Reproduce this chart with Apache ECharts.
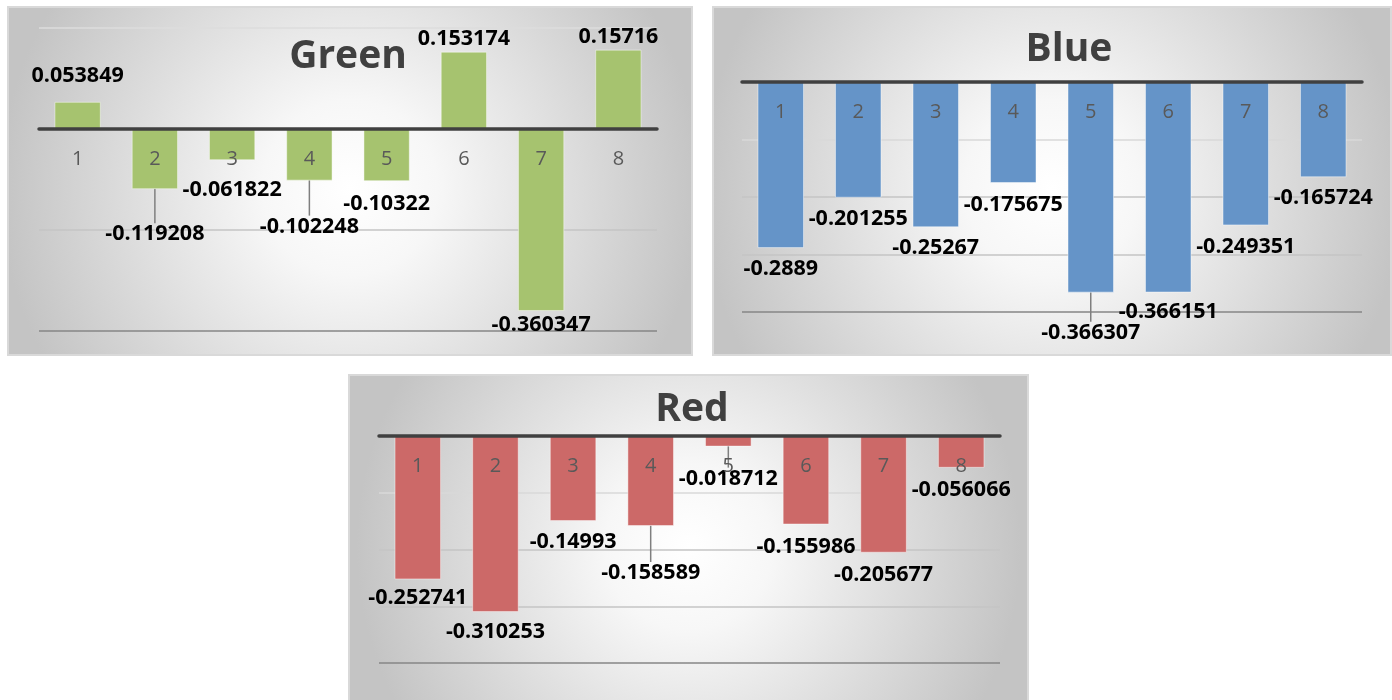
<!DOCTYPE html>
<html>
<head>
<meta charset="utf-8">
<title>Green / Blue / Red</title>
<script src="https://cdn.jsdelivr.net/npm/echarts@6/dist/echarts.min.js"></script>
<style>
  html, body { margin: 0; padding: 0; background: #ffffff; }
  #chart { width: 1392px; height: 700px; }
</style>
</head>
<body>
<div id="chart"></div>
<script>
// Category names shared by the three panels
const categories = ['1', '2', '3', '4', '5', '6', '7', '8'];

// Values per panel
const greenValues = [0.053849, -0.119208, -0.061822, -0.102248, -0.10322, 0.153174, -0.360347, 0.15716];
const blueValues  = [-0.2889, -0.201255, -0.25267, -0.175675, -0.366307, -0.366151, -0.249351, -0.165724];
const redValues   = [-0.252741, -0.310253, -0.14993, -0.158589, -0.018712, -0.155986, -0.205677, -0.056066];

// Value-axis ranges per panel
const greenAxis = { min: -0.4, max: 0.2, interval: 0.2 };
const blueAxis  = { min: -0.4, max: 0,   interval: 0.1 };
const redAxis   = { min: -0.4, max: 0,   interval: 0.1 };

// Hand-placed label nudges (vertical, px) and which labels get a leader line
const greenLabelDy = [-10, 29, 14, 30, 7, 3, -2, 3];
const blueLabelDy  = [5, 5, 5, 6, 24, 3, 5, 5];
const redLabelDy   = [2, 4, 5, 31, 16, 6, 6, 6];
const greenLeader = [1, 3];
const blueLeader  = [4];
const redLeader   = [3, 4];

const panels = [
  { name: 'Green', values: greenValues, axis: greenAxis, color: '#a6c36f', dy: greenLabelDy, leader: greenLeader,
    box: { x: 8, y: 7, w: 684, h: 348 }, grid: { left: 39, right: 735, top: 28, bottom: 369 },
    title: { x: 343, y: 32 }, splitColors: ['#868686', '#c4c4c4', '#c4c4c4', '#dcdcdc'] },
  { name: 'Blue', values: blueValues, axis: blueAxis, color: '#6594c8', dy: blueLabelDy, leader: blueLeader,
    box: { x: 713, y: 7, w: 678, h: 348 }, grid: { left: 742, right: 30, top: 82, bottom: 388 },
    title: { x: 1064, y: 25 }, splitColors: ['#868686', '#c4c4c4', '#c4c4c4', '#d8d8d8', '#c4c4c4'] },
  { name: 'Red', values: redValues, axis: redAxis, color: '#cc6968', dy: redLabelDy, leader: redLeader,
    box: { x: 349, y: 375, w: 679, h: 330 }, grid: { left: 379, right: 392, top: 436, bottom: 37 },
    title: { x: 687, y: 385 }, splitColors: ['#868686', '#c4c4c4', '#c4c4c4', '#d8d8d8', '#c4c4c4'] }
];

const FONT = '"Open Sans", "Noto Sans", sans-serif';

// The category axis sits on the zero value: place it from the top edge of its grid
function zeroOffset(p) {
  const h = 700 - p.grid.top - p.grid.bottom;
  return -h * p.axis.max / (p.axis.max - p.axis.min);
}

const option = {
  animation: false,
  backgroundColor: '#ffffff',
  graphic: panels.map(p => ({
    type: 'rect',
    z: -10,
    silent: true,
    shape: { x: p.box.x, y: p.box.y, width: p.box.w, height: p.box.h },
    style: {
      fill: {
        type: 'radial', x: 0.5, y: 0.52, r: 1.0,
        colorStops: [
          { offset: 0, color: '#ffffff' },
          { offset: 0.25, color: '#f7f7f7' },
          { offset: 1, color: '#c4c4c4' }
        ]
      },
      stroke: '#d9d9d9',
      lineWidth: 2
    }
  })),
  title: panels.map(p => ({
    text: p.name,
    left: p.title.x,
    top: p.title.y,
    textAlign: 'center',
    textStyle: { fontFamily: FONT, fontSize: 39, fontWeight: 'bold', color: '#404040' }
  })),
  grid: panels.map(p => Object.assign({ containLabel: false }, p.grid)),
  xAxis: panels.map((p, i) => ({
    type: 'category',
    gridIndex: i,
    data: categories,
    position: 'top',
    offset: zeroOffset(p),
    z: 5,
    axisLine: { show: true, onZero: false, lineStyle: { color: '#404040', width: 3.5 } },
    axisTick: { show: false },
    axisLabel: { inside: true, margin: 20, fontFamily: FONT, fontSize: 20, color: '#595959' },
    splitLine: { show: false }
  })),
  yAxis: panels.map((p, i) => ({
    type: 'value',
    gridIndex: i,
    min: p.axis.min,
    max: p.axis.max,
    interval: p.axis.interval,
    axisLine: { show: false },
    axisTick: { show: false },
    axisLabel: { show: false },
    splitLine: { show: true, lineStyle: { color: p.splitColors, width: 1.5 } }
  })),
  series: panels.map((p, i) => ({
    type: 'bar',
    name: p.name,
    xAxisIndex: i,
    yAxisIndex: i,
    barCategoryGap: '40%',
    itemStyle: { color: p.color, borderColor: 'rgba(255,255,255,0.45)', borderWidth: 1 },
    label: {
      show: true,
      position: 'outside',
      distance: 5,
      fontFamily: FONT,
      fontSize: 21.5,
      fontWeight: 'bold',
      color: '#000000',
      formatter: d => String(d.value)
    },
    labelLayout: params => ({ dy: p.dy[params.dataIndex] }),
    data: p.values.map((v, k) => ({
      value: v,
      labelLine: { show: p.leader.indexOf(k) >= 0, lineStyle: { color: '#7f7f7f', width: 1.5 } }
    }))
  }))
};

const chart = echarts.init(document.getElementById('chart'), null, { renderer: 'canvas' });
chart.setOption(option);
</script>
</body>
</html>
